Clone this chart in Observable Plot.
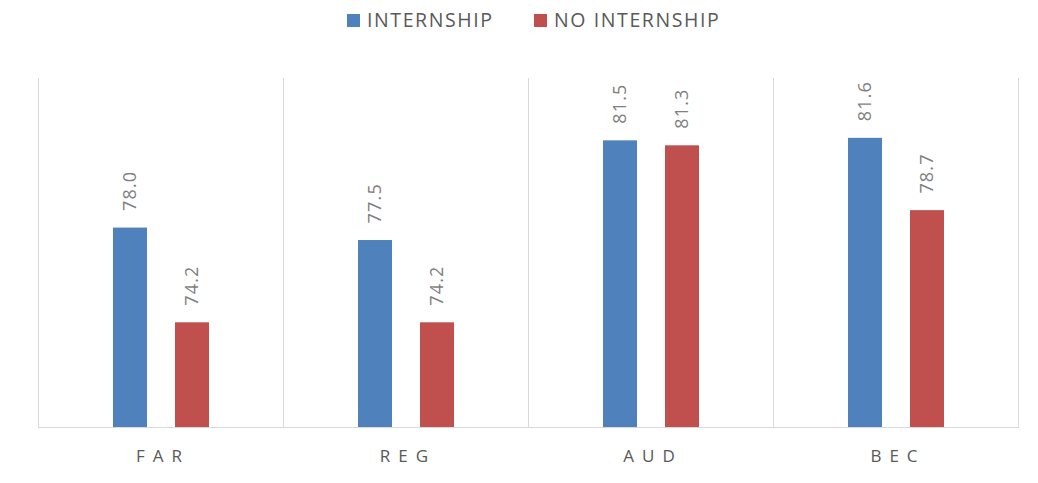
<!DOCTYPE html>
<html>
<head>
<meta charset="utf-8">
<script src="https://cdn.jsdelivr.net/npm/d3@7"></script>
<script src="https://cdn.jsdelivr.net/npm/@observablehq/plot@0.6"></script>
<style>
  body { margin: 0; background: #fff; font-family: "Open Sans", sans-serif; }
  #wrap { width: 1038px; }
  #legend { position: relative; height: 40px; width: 1038px; }
  .sw { position: absolute; top: 14px; width: 13px; height: 13px; }
  .lt { position: absolute; top: 7px; font-size: 19.5px; color: #595959; letter-spacing: 1.6px; line-height: 26px; white-space: nowrap; }
  g[aria-label="text"] text { letter-spacing: 1.2px; }
  g[aria-label="fx-axis tick label"] text { letter-spacing: 8px; font-size: 17px; }
</style>
</head>
<body>
<div id="wrap">
  <div id="legend"></div>
  <div id="chart"></div>
</div>
<script>
const categories = ["FAR", "REG", "AUD", "BEC"];
const seriesNames = ["INTERNSHIP", "NO INTERNSHIP"];
const internship = [78.0, 77.5, 81.5, 81.6];
const noInternship = [74.2, 74.2, 81.3, 78.7];
const colors = ["#4f81bd", "#c0504d"];

const data = categories.flatMap((c, i) => [
  {cat: c, series: seriesNames[0], value: internship[i]},
  {cat: c, series: seriesNames[1], value: noInternship[i]}
]);

// legend
const legend = document.getElementById("legend");
const legendPos = [{sw: 347, tx: 367}, {sw: 534, tx: 554}];
seriesNames.forEach((s, i) => {
  const sw = document.createElement("div");
  sw.className = "sw";
  sw.style.left = legendPos[i].sw + "px";
  sw.style.background = colors[i];
  legend.appendChild(sw);
  const t = document.createElement("div");
  t.className = "lt";
  t.style.left = legendPos[i].tx + "px";
  t.textContent = s;
  legend.appendChild(t);
});

const chart = Plot.plot({
  width: 1038,
  height: 443,
  marginLeft: 38,
  marginRight: 20,
  marginTop: 38,
  marginBottom: 56,
  style: {fontFamily: "Open Sans, sans-serif", background: "#fff"},
  fx: {domain: categories, padding: 0, label: null, axis: "bottom", tickSize: 0, tickPadding: 22},
  x: {domain: seriesNames, paddingInner: 0.457, paddingOuter: 1.186, axis: null},
  y: {domain: [70, 84], axis: null},
  color: {domain: seriesNames, range: colors},
  marks: [
    Plot.frame({anchor: "left", stroke: "#d9d9d9", strokeOpacity: 1}),
    Plot.frame({anchor: "right", stroke: "#d9d9d9", strokeOpacity: 1}),
    Plot.barY(data, {fx: "cat", x: "series", y1: 70, y2: "value", fill: "series"}),
    Plot.ruleY([70], {stroke: "#d9d9d9"}),
    Plot.text(data, {
      fx: "cat", x: "series", y: "value",
      text: d => d.value.toFixed(1),
      rotate: -90, textAnchor: "start", dy: -17,
      fill: "#7f7f7f", fontSize: 18
    })
  ]
});
d3.select(chart).selectAll('g[aria-label="fx-axis tick label"] text').attr("fill", "#595959").attr("dx", 2);
d3.select(chart).selectAll('g[aria-label="fx-axis tick label"]').attr("fill", "#595959");
document.getElementById("chart").appendChild(chart);
</script>
</body>
</html>
